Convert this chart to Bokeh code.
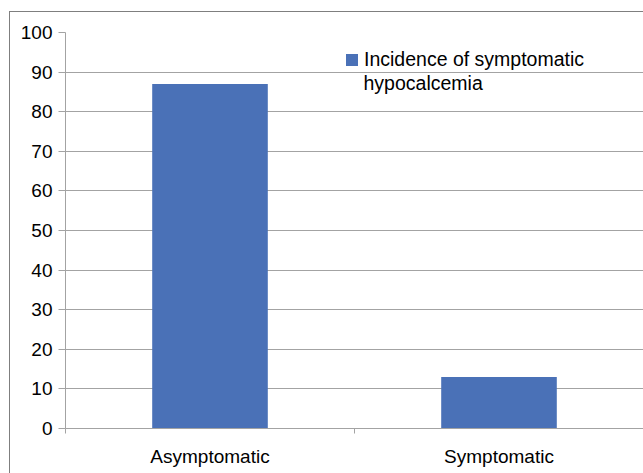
from bokeh.plotting import figure
from bokeh.models import FixedTicker, Range1d, Legend, LegendItem, Label
from bokeh.embed import file_html
from bokeh.resources import INLINE

categories = ["Asymptomatic", "Symptomatic"]
values = [87, 13]
series_name = ["Incidence of symptomatic", "hypocalcemia"]
y_ticks = [0, 10, 20, 30, 40, 50, 60, 70, 80, 90, 100]

BAR = "#4a71b7"
GRID = "#a3a3a3"
FONT = "Liberation Sans"

x_pos = [i + 0.5 for i in range(len(categories))]
boundaries = list(range(len(categories) + 1))

p = figure(width=634, height=462,
           x_range=Range1d(0, len(categories)), y_range=Range1d(0, 100),
           output_backend="svg", toolbar_location=None,
           min_border_left=56, min_border_top=21, min_border_right=0,
           min_border_bottom=45)
p.margin = (11, 0, 0, 9)
p.border_fill_alpha = 0
p.styles = {"box-shadow": "inset 1px 1px 0 0 #7f7f7f"}
p.outline_line_color = None

r = p.vbar(x=x_pos, top=values, width=0.4, fill_color=BAR, line_color=None)

# y axis
p.yaxis.ticker = FixedTicker(ticks=y_ticks)
p.yaxis.major_tick_out = 7
p.yaxis.major_tick_in = 0
p.yaxis.minor_tick_line_color = None
p.yaxis.axis_line_color = GRID
p.yaxis.major_tick_line_color = GRID
p.yaxis.major_label_text_font = FONT
p.yaxis.major_label_text_font_size = "19px"
p.yaxis.major_label_text_color = "#000000"
p.yaxis.major_label_standoff = 6

# x axis
p.xaxis.ticker = FixedTicker(ticks=x_pos, minor_ticks=boundaries)
p.xaxis.major_label_overrides = {x: c for x, c in zip(x_pos, categories)}
p.xaxis.major_tick_line_color = None
p.xaxis.major_tick_out = 0
p.xaxis.major_tick_in = 0
p.xaxis.minor_tick_out = 5
p.xaxis.minor_tick_in = 0
p.xaxis.minor_tick_line_color = GRID
p.xaxis.axis_line_color = GRID
p.xaxis.major_label_text_font = FONT
p.xaxis.major_label_text_font_size = "19px"
p.xaxis.major_label_text_color = "#000000"
p.xaxis.major_label_standoff = 12

p.xgrid.grid_line_color = None
p.ygrid.grid_line_color = GRID
p.ygrid.ticker = FixedTicker(ticks=y_ticks)

legend = Legend(items=[LegendItem(label=series_name[0], renderers=[r])],
                location=(279, 357), orientation="vertical")
legend.background_fill_alpha = 0
legend.border_line_color = None
legend.padding = 0
legend.margin = 0
legend.glyph_width = 15
legend.glyph_height = 15
legend.label_standoff = 5
legend.label_text_font = FONT
legend.label_text_font_size = "19.5px"
legend.label_text_color = "#000000"
legend.label_height = 22
p.add_layout(legend, "center")

cont = Label(x=298, y=346, x_units="screen", y_units="screen",
             text=series_name[1], text_font=FONT, text_font_size="19.5px",
             text_color="#000000", text_baseline="middle", text_align="left")
p.add_layout(cont)

open("out.html", "w").write(file_html(p, INLINE))
